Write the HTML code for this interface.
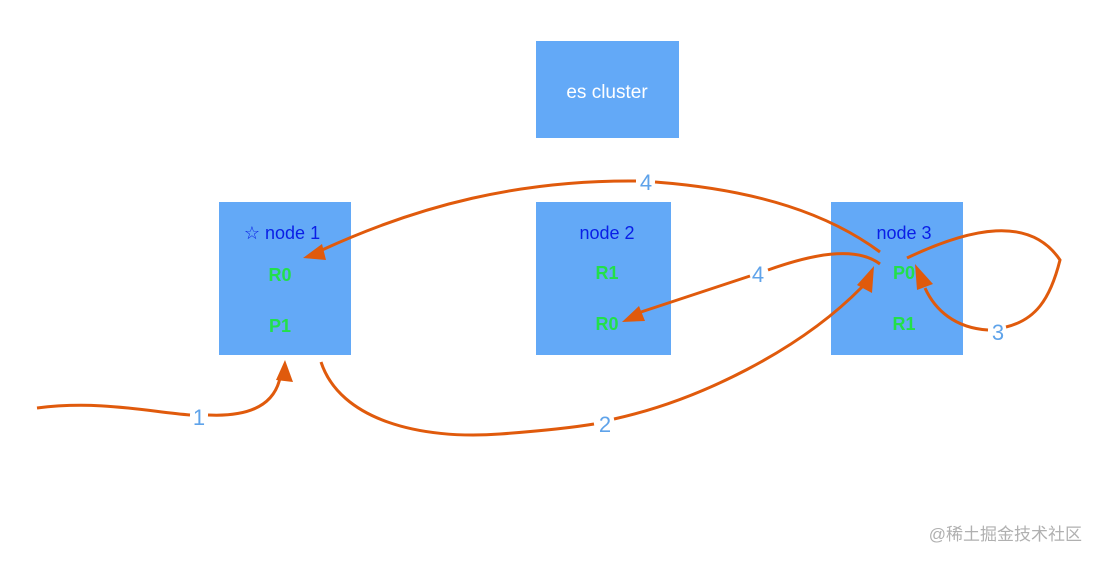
<!DOCTYPE html>
<html><head><meta charset="utf-8"><style>
html,body{margin:0;padding:0;background:#fff;}
svg{display:block;}
text{font-family:"Liberation Sans",Arial,sans-serif;}
</style></head><body>
<svg width="1099" height="561" viewBox="0 0 1099 561">
<defs>
<marker id="ah" markerWidth="10" markerHeight="10" refX="8" refY="5" orient="auto" markerUnits="userSpaceOnUse" viewBox="0 0 10 10">
</marker>
</defs>
<rect x="536" y="41" width="143" height="97" fill="#63a9f7"/>
<text x="607" y="98" font-size="19" fill="#fff" text-anchor="middle">es cluster</text>

<rect x="219" y="202" width="132" height="153" fill="#63a9f7"/>
<text x="282" y="239" font-size="18" fill="#0a1ee6" text-anchor="middle">☆ node 1</text>
<text x="280" y="281" font-size="18" fill="#22e04a" text-anchor="middle" font-weight="bold">R0</text>
<text x="280" y="332" font-size="18" fill="#22e04a" text-anchor="middle" font-weight="bold">P1</text>

<rect x="536" y="202" width="135" height="153" fill="#63a9f7"/>
<text x="607" y="239" font-size="18" fill="#0a1ee6" text-anchor="middle">node 2</text>
<text x="607" y="279" font-size="18" fill="#22e04a" text-anchor="middle" font-weight="bold">R1</text>
<text x="607" y="330" font-size="18" fill="#22e04a" text-anchor="middle" font-weight="bold">R0</text>

<rect x="831" y="202" width="132" height="153" fill="#63a9f7"/>
<text x="904" y="239" font-size="18" fill="#0a1ee6" text-anchor="middle">node 3</text>
<text x="904" y="279" font-size="18" fill="#22e04a" text-anchor="middle" font-weight="bold">P0</text>
<text x="904" y="330" font-size="18" fill="#22e04a" text-anchor="middle" font-weight="bold">R1</text>

<g fill="none" stroke="#e05a0c" stroke-width="3">
<path d="M37,408 C100,400 150,412 190,415 M208,415 C250,417 274,405 280,378"/>
<path d="M321,362 C340,420 420,440 500,434 C540,431 570,428 594,424 M614,419 C700,400 800,350 862,287"/>
<path d="M880,252 C830,215 760,190 655,182 M636,181 C520,180 420,205 322,250"/>
<path d="M880,264 C855,245 810,255 768,270 M750,276 L641,312"/>
<path d="M907,258 C970,228 1030,215 1060,260 C1050,300 1035,320 1006,327 M988,330 C955,328 935,310 925,288"/>
</g>
<g fill="#e05a0c">
<polygon points="285,360 276,380 293,382"/>
<polygon points="874,266 857,285 872,293"/>
<polygon points="303,258 322,244 326,260"/>
<polygon points="622,322 639,306 645,321"/>
<polygon points="915,264 917,290 933,284"/>
</g>
<g font-size="22" fill="#5fa3ea" text-anchor="middle">
<text x="199" y="425">1</text>
<text x="605" y="432">2</text>
<text x="998" y="340">3</text>
<text x="646" y="190">4</text>
<text x="758" y="282">4</text>
</g>
<text x="1082" y="540" font-size="17" fill="#b0b0b0" text-anchor="end" font-family="'Liberation Sans','Noto Sans CJK SC',sans-serif">@稀土掘金技术社区</text>
</svg>
</body></html>
